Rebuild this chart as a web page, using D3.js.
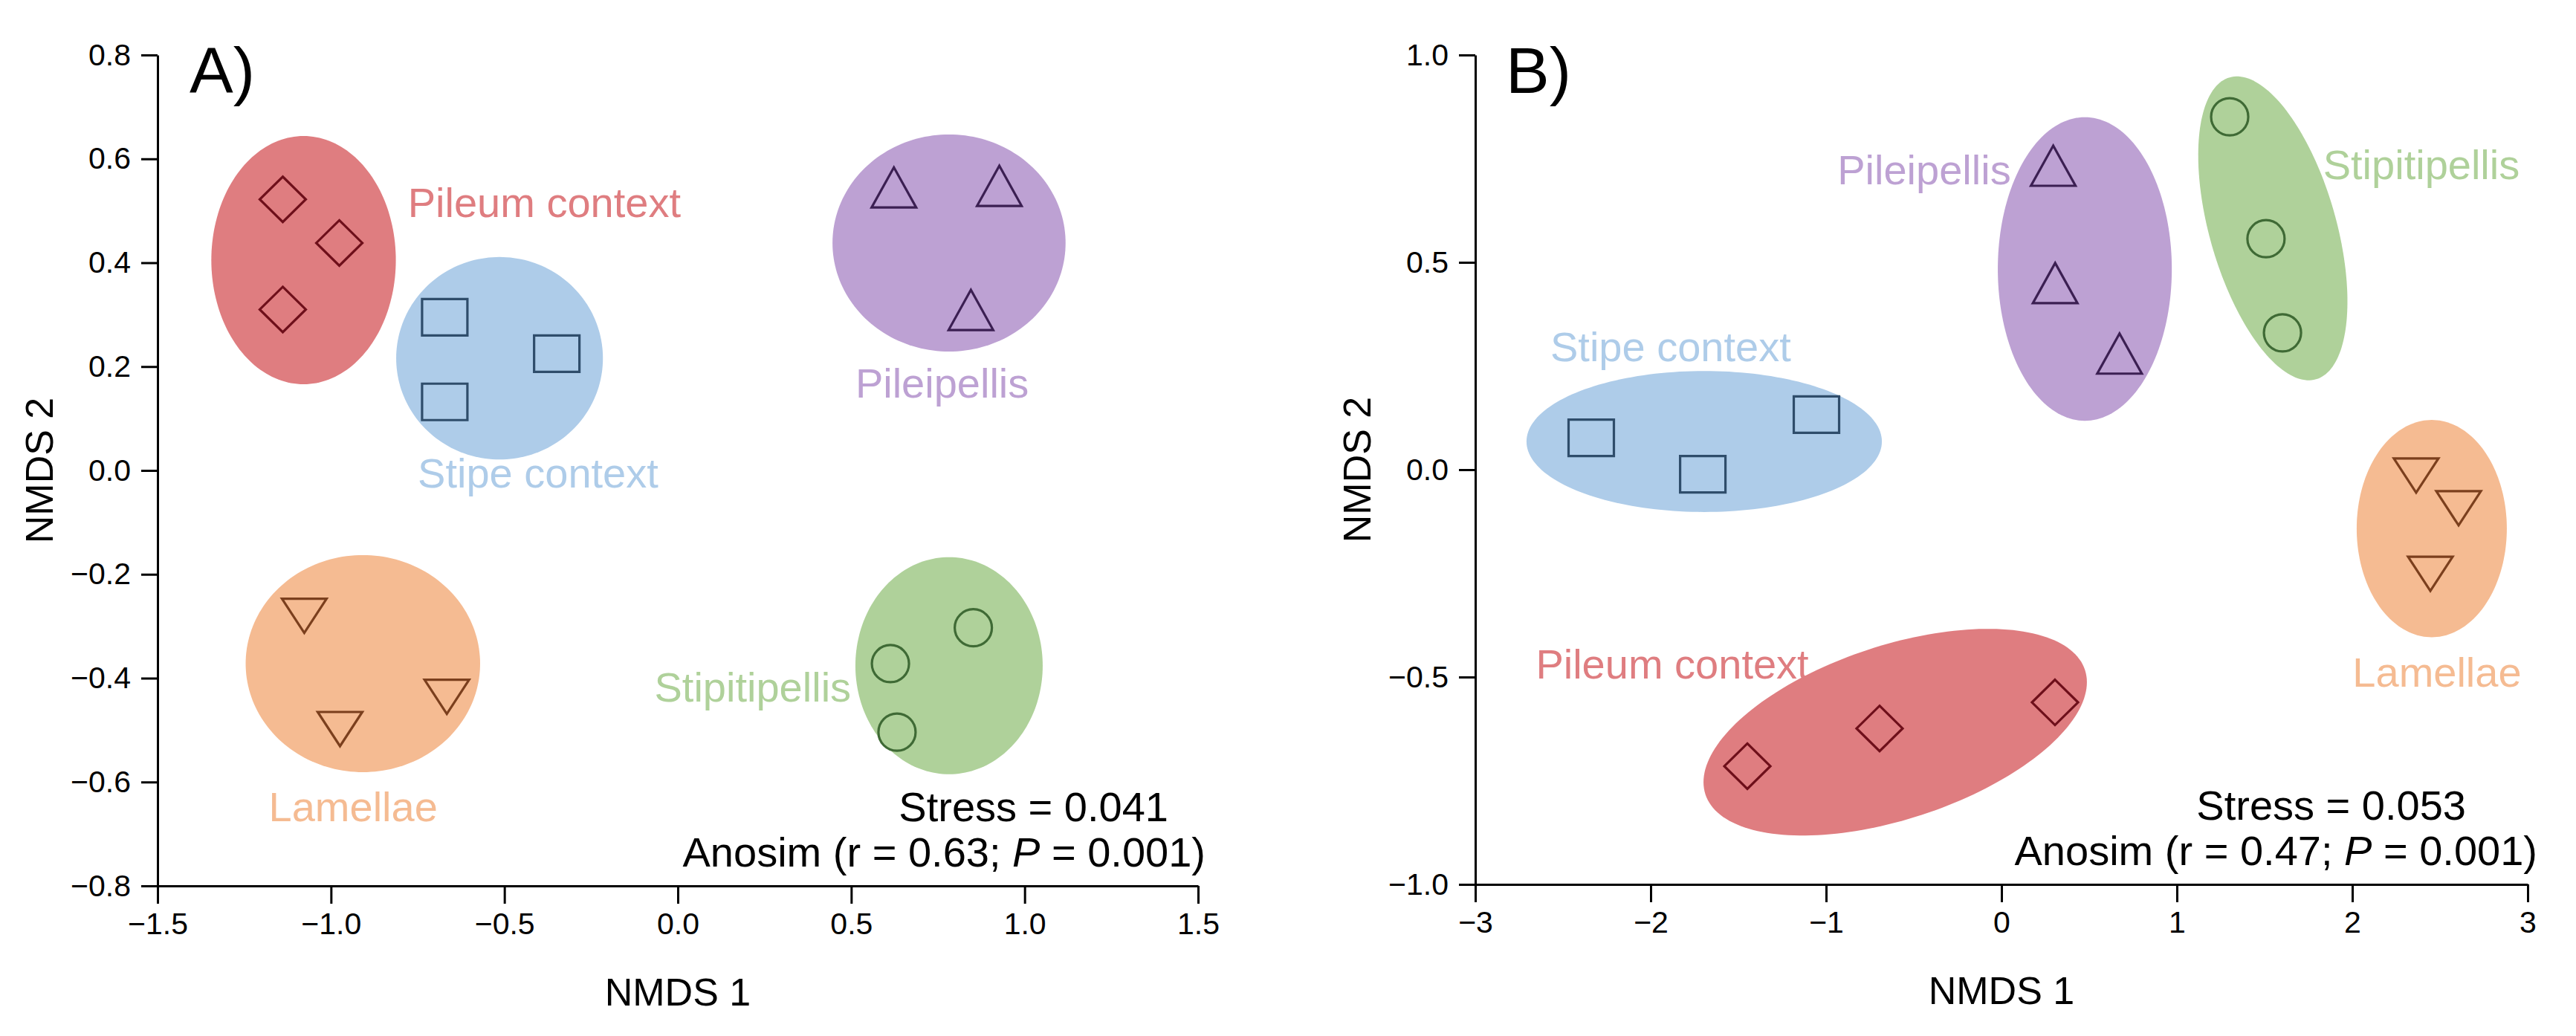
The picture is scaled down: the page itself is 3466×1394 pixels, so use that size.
<!DOCTYPE html>
<html>
<head>
<meta charset="utf-8">
<script src="https://cdn.jsdelivr.net/npm/d3@7"></script>
<style>
  body { margin: 0; background: #fff; }
  svg { display: block; font-family: "Liberation Sans", Arial, sans-serif; }
  .axis path, .axis line { stroke: #000; stroke-width: 3; }
  .axis text { font-size: 41px; fill: #000; }
</style>
</head>
<body>
<svg id="chart" width="3466" height="1394"></svg>
<script>
// groups (tissues)
const groups = ["Pileum context", "Stipe context", "Pileipellis", "Stipitipellis", "Lamellae"];
const fillColors = ["#df7d80", "#aecce9", "#bda1d3", "#afd19a", "#f5bb92"];
const strokeColors = ["#6e0f1a", "#2f4d6b", "#3b1f52", "#3f6a35", "#7b3f1d"];
const shapes = ["diamond", "square", "triangle", "circle", "triangleDown"];

// tick values
const ticksAx = [-1.5, -1.0, -0.5, 0.0, 0.5, 1.0, 1.5];
const ticksAy = [-0.8, -0.6, -0.4, -0.2, 0.0, 0.2, 0.4, 0.6, 0.8];
const ticksBx = [-3, -2, -1, 0, 1, 2, 3];
const ticksBy = [-1.0, -0.5, 0.0, 0.5, 1.0];

// panel A: sample scores (group index, NMDS1, NMDS2)
const pointsA = [
  [0, -1.139, 0.522], [0, -0.976, 0.438], [0, -1.139, 0.310],
  [1, -0.672, 0.295], [1, -0.672, 0.132], [1, -0.349, 0.225],
  [2, 0.623, 0.545], [2, 0.927, 0.548], [2, 0.845, 0.309],
  [3, 0.852, -0.303], [3, 0.613, -0.372], [3, 0.632, -0.504],
  [4, -1.077, -0.280], [4, -0.974, -0.498], [4, -0.666, -0.436]
];
// panel A ellipses: group, centre x, centre y, axis vector 1, axis vector 2 (data units)
const ellipsesA = [
  [0, -1.079, 0.405, [0.266, 0], [0, 0.239]],
  [1, -0.514, 0.216, [0.298, 0], [0, 0.195]],
  [2, 0.782, 0.438, [0.336, 0], [0, 0.209]],
  [3, 0.782, -0.376, [0.270, 0], [0, 0.209]],
  [4, -0.908, -0.372, [0.338, 0], [0, 0.209]]
];
// panel A group label anchors (centre, baseline)
const labelsA = [
  [0, -0.385, 0.488], [1, -0.403, -0.033], [2, 0.762, 0.140],
  [3, 0.216, -0.445], [4, -0.936, -0.675]
];

// panel B
const pointsB = [
  [0, -1.449, -0.715], [0, -0.695, -0.624], [0, 0.305, -0.561],
  [1, -2.339, 0.077], [1, -1.703, -0.011], [1, -1.055, 0.133],
  [2, 0.295, 0.733], [2, 0.306, 0.450], [2, 0.673, 0.280],
  [3, 1.301, 0.851], [3, 1.508, 0.557], [3, 1.602, 0.330],
  [4, 2.364, -0.014], [4, 2.606, -0.093], [4, 2.445, -0.251]
];
const ellipsesB = [
  [0, -0.606, -0.633, [1.082, 0.150], [0.154, -0.199]],
  [1, -1.695, 0.068, [1.013, 0], [0, 0.170]],
  [2, 0.475, 0.484, [0.496, 0], [0, 0.366]],
  [3, 1.547, 0.582, [-0.246, 0.364], [0.347, 0.042]],
  [4, 2.453, -0.142, [0.428, 0], [0, 0.262]]
];
const labelsB = [
  [0, -1.877, -0.504], [1, -1.886, 0.262], [2, -0.441, 0.688],
  [3, 2.394, 0.701], [4, 2.483, -0.523]
];

const stressA = "0.041", rA = "0.63", pA = "0.001";
const stressB = "0.053", rB = "0.47", pB = "0.001";

const svg = d3.select("#chart");

function markerPath(shape) {
  if (shape == "diamond") return "M0,-30.5L31,0L0,30.5L-31,0Z";
  if (shape == "square") return "M-30.5,-24.5H30.5V24.5H-30.5Z";
  if (shape == "triangle") return "M0,-27L30,27H-30Z";
  if (shape == "triangleDown") return "M-30,-23H30L0,23Z";
  return "M25,0A25,25 0 1,1 -25,0A25,25 0 1,1 25,0Z";
}

function drawPanel(opt) {
  let x = d3.scaleLinear().domain(opt.xDomain).range(opt.xRange);
  let y = d3.scaleLinear().domain(opt.yDomain).range(opt.yRange);
  let g = svg.append("g");

  // ellipses
  let line = d3.line().curve(d3.curveLinearClosed);
  g.selectAll("path.ell")
    .data(opt.ellipses)
    .enter().append("path")
    .attr("class", "ell")
    .attr("fill", d => fillColors[d[0]])
    .attr("d", function(d) {
      let pts = d3.range(0, 360, 2).map(function(a) {
        let t = a * Math.PI / 180;
        let px = d[1] + Math.cos(t) * d[3][0] + Math.sin(t) * d[4][0];
        let py = d[2] + Math.cos(t) * d[3][1] + Math.sin(t) * d[4][1];
        return [x(px), y(py)];
      });
      return line(pts);
    });

  // points
  g.selectAll("path.pt")
    .data(opt.points)
    .enter().append("path")
    .attr("class", "pt")
    .attr("transform", d => "translate(" + x(d[1]) + "," + y(d[2]) + ")")
    .attr("d", d => markerPath(shapes[d[0]]))
    .attr("fill", "none")
    .attr("stroke", d => strokeColors[d[0]])
    .attr("stroke-width", 3.2);

  // group labels
  g.selectAll("text.lab")
    .data(opt.labels)
    .enter().append("text")
    .attr("class", "lab")
    .attr("x", d => x(d[1]))
    .attr("y", d => y(d[2]))
    .attr("text-anchor", "middle")
    .attr("font-size", 56)
    .attr("fill", d => fillColors[d[0]])
    .text(d => groups[d[0]]);

  // axes
  g.append("g")
    .attr("class", "axis")
    .attr("transform", "translate(0," + opt.yRange[0] + ")")
    .call(d3.axisBottom(x).tickValues(opt.xTicks).tickFormat(d3.format(opt.xFmt))
      .tickSize(24).tickSizeOuter(0).tickPadding(12));

  g.append("g")
    .attr("class", "axis")
    .attr("transform", "translate(" + opt.xRange[0] + ",0)")
    .call(d3.axisLeft(y).tickValues(opt.yTicks).tickFormat(d3.format(opt.yFmt))
      .tickSize(22).tickSizeOuter(0).tickPadding(14));

  g.selectAll(".axis .domain").attr("stroke-width", 3);
  g.selectAll(".axis text").attr("font-size", 41);

  // axis titles
  let midX = (opt.xRange[0] + opt.xRange[1]) / 2;
  let midY = (opt.yRange[0] + opt.yRange[1]) / 2;
  g.append("text")
    .attr("x", midX).attr("y", opt.yRange[0] + 161)
    .attr("text-anchor", "middle").attr("font-size", 52)
    .text("NMDS 1");
  g.append("text")
    .attr("transform", "translate(" + (opt.xRange[0] - 141) + "," + midY + ") rotate(-90)")
    .attr("text-anchor", "middle").attr("font-size", 52)
    .text("NMDS 2");

  // panel letter
  g.append("text")
    .attr("x", opt.xRange[0] + opt.letterDx).attr("y", 125)
    .attr("font-size", 88)
    .text(opt.letter);

  // stats
  g.append("text")
    .attr("x", opt.xRange[1] + opt.stressDx).attr("y", opt.yRange[0] - 87)
    .attr("text-anchor", "end").attr("font-size", 56)
    .text("Stress = " + opt.stress);
  let an = g.append("text")
    .attr("x", opt.xRange[1] + opt.anosimDx).attr("y", opt.yRange[0] - 26)
    .attr("text-anchor", "end").attr("font-size", 56);
  an.append("tspan").text("Anosim (r = " + opt.r + "; ");
  an.append("tspan").attr("font-style", "italic").text("P");
  an.append("tspan").text(" = " + opt.p + ")");
}

drawPanel({
  xDomain: [-1.5, 1.5], xRange: [212, 1612],
  yDomain: [-0.8, 0.8], yRange: [1192, 74],
  xTicks: ticksAx, yTicks: ticksAy, xFmt: ".1f", yFmt: ".1f",
  ellipses: ellipsesA, points: pointsA, labels: labelsA,
  letter: "A)", letterDx: 43,
  stress: stressA, r: rA, p: pA, stressDx: -40, anosimDx: 10
});

drawPanel({
  xDomain: [-3, 3], xRange: [1985, 3401],
  yDomain: [-1, 1], yRange: [1190, 74],
  xTicks: ticksBx, yTicks: ticksBy, xFmt: "d", yFmt: ".1f",
  ellipses: ellipsesB, points: pointsB, labels: labelsB,
  letter: "B)", letterDx: 41,
  stress: stressB, r: rB, p: pB, stressDx: -83, anosimDx: 13
});
</script>
</body>
</html>
